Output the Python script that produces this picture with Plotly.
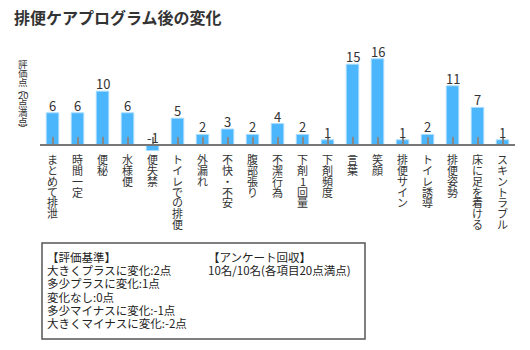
import plotly.graph_objects as go

title = "排便ケアプログラム後の変化"
categories = ["まとめて排泄", "時間一定", "便秘", "水様便", "便失禁", "トイレでの排便", "外漏れ",
              "不快・不安", "腹部張り", "不潔行為", "下剤1回量", "下剤頻度", "言葉", "笑顔",
              "排便サイン", "トイレ誘導", "排便姿勢", "床に足を着ける", "スキントラブル"]
values = [6, 6, 10, 6, -1, 5, 2, 3, 2, 4, 2, 1, 15, 16, 1, 2, 11, 7, 1]
ylabel_chars = ["評", "価", "点", "︵", "20", "点", "満", "点", "︶"]
criteria_lines = ["【評価基準】", "大きくプラスに変化:2点", "多少プラスに変化:1点", "変化なし:0点",
                  "多少マイナスに変化:-1点", "大きくマイナスに変化:-2点"]
survey_lines = ["【アンケート回収】", "10名/10名(各項目20点満点)"]

FONT = "Noto Sans CJK JP"
W, H = 530, 350
ML, MR, MT, MB = 40, 15, 48, 194
PW, PH = W - ML - MR, H - MT - MB
YMIN, YMAX = -2, 18


def px_x(px):
    return (px - ML) / PW


def px_y(py):
    return (H - MB - py) / PH


idx = list(range(len(categories)))
fig = go.Figure()
fig.add_trace(go.Bar(
    x=idx, y=values, width=0.5,
    marker=dict(color="#4cb6fc", line=dict(color="#a9dcff", width=1)),
    hoverinfo="skip",
))

ann = []
# value labels
for i, v in enumerate(values):
    ann.append(dict(x=i, y=max(v, 0), xref="x", yref="y", text=str(v), showarrow=False,
                    yanchor="bottom", yshift=-4, font=dict(family=FONT, size=13, color="#333")))
# vertical category labels
for i, c in enumerate(categories):
    for j, ch in enumerate(c):
        ann.append(dict(x=i, y=0, xref="x", yref="y", text=ch, showarrow=False,
                        yanchor="middle", yshift=-(14 + 10.8 * j),
                        font=dict(family=FONT, size=11, color="#333")))
# vertical y label
ypos = [63.5, 73, 82, 88.5, 94.5, 103, 112, 121, 128]
for ch, yy in zip(ylabel_chars, ypos):
    ann.append(dict(x=px_x(23), y=px_y(yy), xref="paper", yref="paper", text=ch,
                    showarrow=False, xanchor="center", yanchor="middle",
                    font=dict(family=FONT, size=9.5, color="#333")))
# title
ann.append(dict(x=px_x(12), y=px_y(17), xref="paper", yref="paper", text="<b>" + title + "</b>",
                showarrow=False, xanchor="left", yanchor="middle",
                font=dict(family=FONT, size=16, color="#333")))
# legend box text
for k, line in enumerate(criteria_lines):
    ann.append(dict(x=px_x(45), y=px_y(257 + 13.2 * k), xref="paper", yref="paper", text=line,
                    showarrow=False, xanchor="left", yanchor="middle",
                    font=dict(family=FONT, size=11.5, color="#222")))
for k, line in enumerate(survey_lines):
    ann.append(dict(x=px_x(206), y=px_y(257 + 13.2 * k), xref="paper", yref="paper", text=line,
                    showarrow=False, xanchor="left", yanchor="middle",
                    font=dict(family=FONT, size=11.5, color="#222")))

shapes = [dict(type="rect", xref="paper", yref="paper", x0=px_x(42), x1=px_x(365),
               y0=px_y(339), y1=px_y(243), line=dict(color="#555", width=1.5))]

fig.update_layout(
    width=W, height=H, margin=dict(l=ML, r=MR, t=MT, b=MB),
    paper_bgcolor="white", plot_bgcolor="white", showlegend=False,
    annotations=ann, shapes=shapes,
    xaxis=dict(range=[-0.5, len(categories) - 0.5], tickmode="array", tickvals=idx,
               ticktext=[""] * len(idx), tickson="boundaries", ticks="inside", ticklen=7,
               tickcolor="#888", tickwidth=1.5, showline=True, linecolor="#777", linewidth=2,
               showgrid=False, zeroline=False, anchor="free",
               position=(0 - YMIN) / (YMAX - YMIN), showticklabels=False),
    yaxis=dict(range=[YMIN, YMAX], visible=False, showgrid=False, zeroline=False),
)

fig.write_html("out.html")
